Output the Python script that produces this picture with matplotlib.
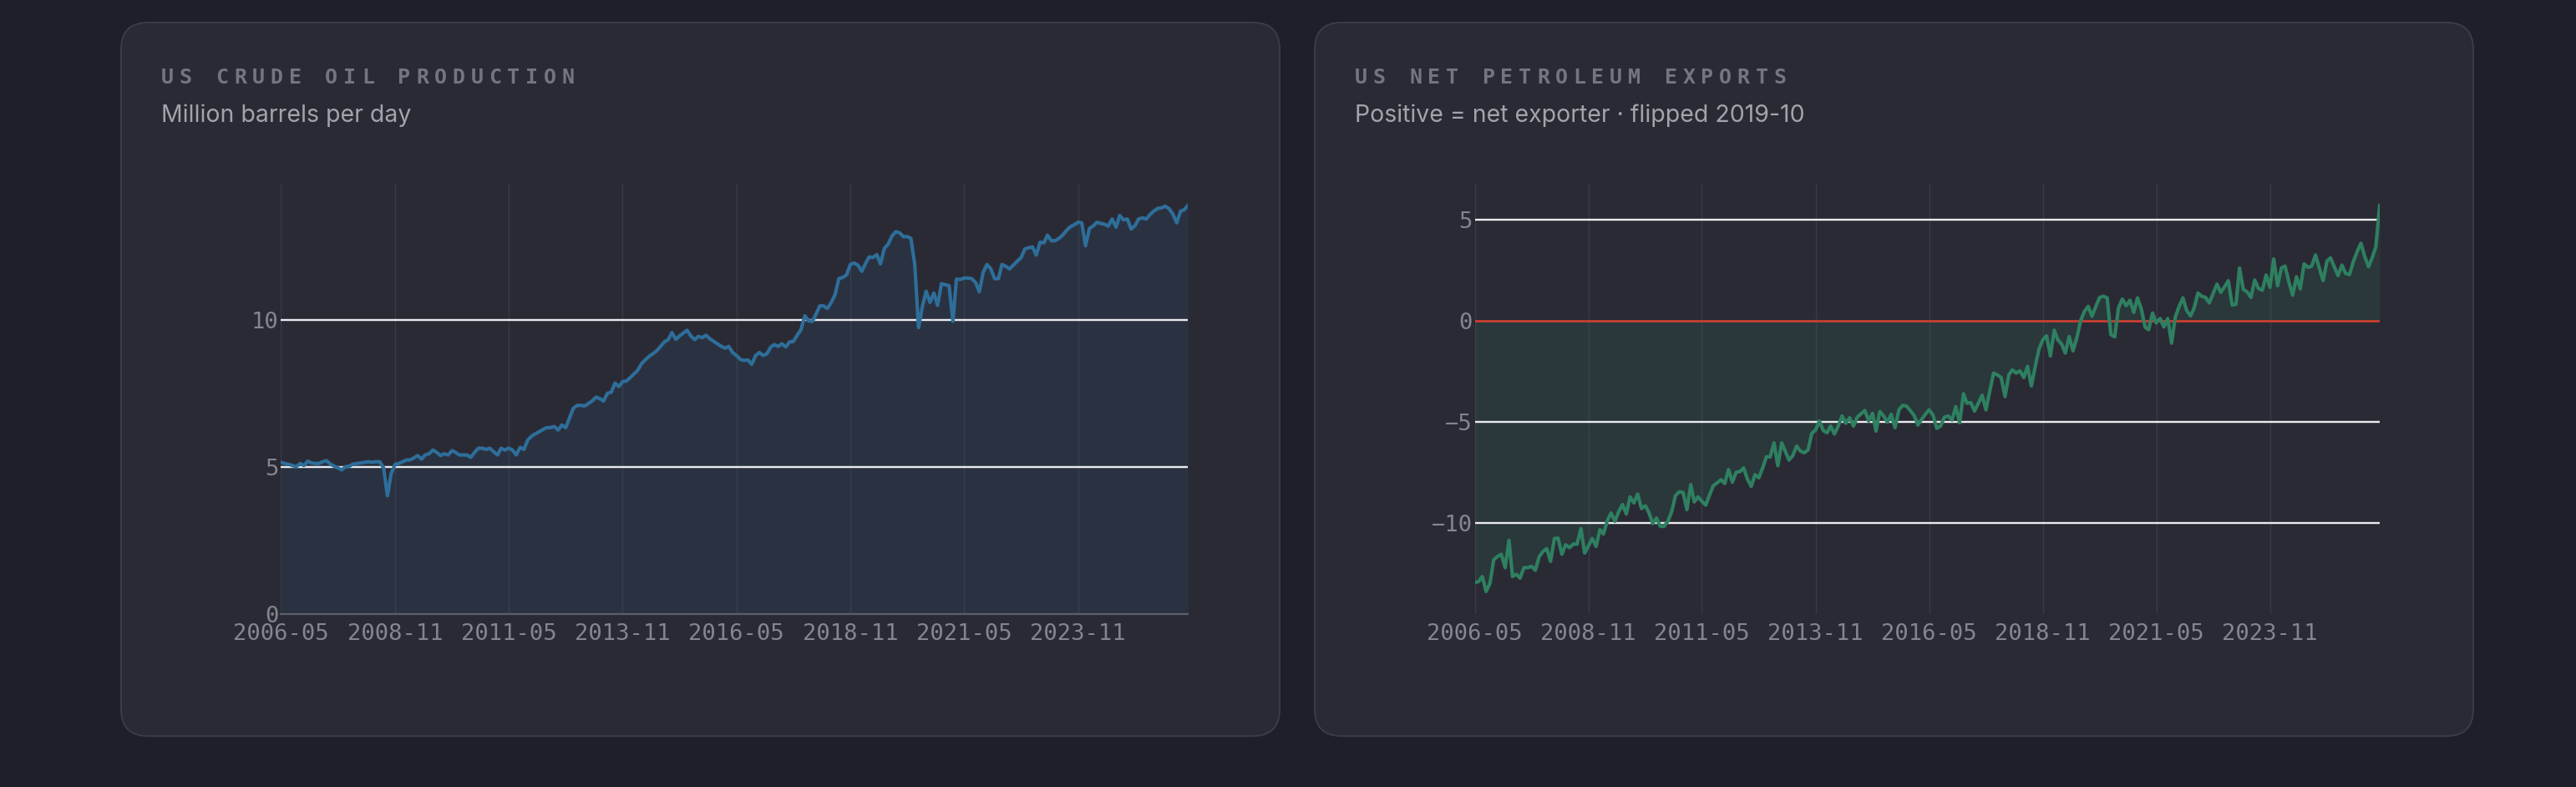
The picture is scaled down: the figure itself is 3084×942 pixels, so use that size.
import pandas as pd
import matplotlib.pyplot as plt
import matplotlib.dates as mdates
from matplotlib.patches import FancyBboxPatch

# monthly values, 2006-05 .. 2026-04
start_month = "2006-05-01"

production = [
    5.16, 5.12, 5.09, 5.05, 5.01, 5.12, 5.05, 5.2, 5.14, 5.12,
    5.12, 5.18, 5.22, 5.10, 5.03, 4.97, 4.9, 5.01, 5.03, 5.1,
    5.12, 5.14, 5.16, 5.18, 5.16, 5.18, 5.18, 4.97, 4.02, 4.78,
    5.09, 5.12, 5.18, 5.24, 5.24, 5.31, 5.39, 5.27, 5.41, 5.45,
    5.58, 5.5, 5.39, 5.45, 5.41, 5.56, 5.5, 5.41, 5.41, 5.41,
    5.33, 5.5, 5.64, 5.64, 5.6, 5.64, 5.52, 5.41, 5.64, 5.58,
    5.64, 5.58, 5.41, 5.67, 5.6, 5.92, 6.05, 6.13, 6.2, 6.28,
    6.34, 6.34, 6.38, 6.26, 6.43, 6.34, 6.68, 7.0, 7.1, 7.1,
    7.08, 7.17, 7.25, 7.38, 7.33, 7.25, 7.51, 7.55, 7.86, 7.74,
    7.91, 7.93, 8.05, 8.18, 8.29, 8.52, 8.65, 8.77, 8.86, 8.96,
    9.11, 9.26, 9.34, 9.58, 9.35, 9.47, 9.56, 9.66, 9.47, 9.34,
    9.45, 9.41, 9.49, 9.37, 9.28, 9.2, 9.11, 9.05, 9.11, 8.9,
    8.8, 8.67, 8.63, 8.65, 8.5, 8.79, 8.9, 8.8, 8.86, 9.09,
    9.17, 9.11, 9.2, 9.09, 9.26, 9.28, 9.49, 9.68, 10.15, 9.98,
    9.96, 10.23, 10.49, 10.49, 10.4, 10.61, 10.87, 11.42, 11.46, 11.54,
    11.9, 11.95, 11.88, 11.67, 11.92, 12.16, 12.14, 12.24, 11.92, 12.45,
    12.6, 12.87, 13.02, 12.98, 12.85, 12.85, 12.79, 11.9, 9.75, 10.47,
    10.99, 10.61, 10.93, 10.51, 11.25, 11.21, 11.18, 9.96, 11.4, 11.39,
    11.44, 11.44, 11.42, 11.29, 10.97, 11.63, 11.9, 11.76, 11.42, 11.42,
    11.9, 11.84, 11.75, 11.88, 12.01, 12.13, 12.43, 12.47, 12.5, 12.22,
    12.66, 12.64, 12.9, 12.71, 12.71, 12.79, 12.9, 13.06, 13.19, 13.25,
    13.34, 13.32, 12.54, 13.13, 13.21, 13.34, 13.3, 13.27, 13.21, 13.45,
    13.17, 13.57, 13.42, 13.45, 13.11, 13.23, 13.45, 13.49, 13.45, 13.6,
    13.72, 13.81, 13.83, 13.89, 13.8, 13.62, 13.32, 13.72, 13.76, 13.91,
]

net_exports = [
    -12.96, -12.91, -12.66, -13.4, -12.99, -11.83, -11.67, -11.56, -12.22, -10.87,
    -12.66, -12.55, -12.74, -12.22, -12.22, -12.16, -12.35, -11.69, -11.42, -11.28,
    -11.91, -10.78, -10.76, -11.56, -11.09, -11.23, -11.06, -11.06, -10.29, -11.5,
    -11.14, -10.78, -11.17, -10.34, -10.56, -9.9, -9.52, -9.93, -9.46, -9.1,
    -9.57, -8.72, -9.02, -8.58, -9.3, -9.16, -9.49, -10.04, -9.77, -10.18,
    -10.18, -9.93, -9.44, -8.66, -8.47, -8.5, -9.35, -8.11, -8.97, -8.72,
    -8.94, -9.13, -8.64, -8.17, -8.03, -7.87, -8.06, -7.37, -8.0, -7.5,
    -7.48, -7.29, -7.84, -8.2, -7.62, -7.78, -7.29, -6.74, -6.74, -6.05,
    -7.18, -6.05, -6.46, -6.9, -6.68, -6.21, -6.46, -6.54, -6.4, -5.58,
    -5.41, -4.97, -5.44, -5.55, -5.22, -5.61, -5.22, -4.72, -5.08, -4.81,
    -5.22, -4.78, -4.61, -4.45, -4.97, -4.59, -5.47, -4.5, -4.72, -5.03,
    -4.64, -5.3, -4.42, -4.2, -4.23, -4.45, -4.7, -5.17, -4.89, -4.64,
    -4.42, -4.67, -5.33, -5.22, -4.78, -4.72, -4.92, -4.26, -5.06, -3.62,
    -4.09, -4.06, -4.48, -4.09, -3.7, -4.42, -3.48, -2.6, -2.69, -2.82,
    -3.76, -2.69, -2.44, -2.6, -2.49, -2.82, -2.27, -3.24, -2.27, -1.42,
    -0.95, -0.76, -1.75, -0.48, -0.95, -1.17, -1.61, -0.79, -1.5, -0.87,
    -0.01, 0.45, 0.7, 0.21, 0.7, 1.14, 1.2, 1.12, -0.7, -0.81,
    0.62, 1.06, 0.73, 1.0, 0.4, 1.12, 0.56, -0.34, -0.45, 0.37,
    -0.12, 0.1, -0.32, 0.1, -1.12, 0.18, 0.7, 1.12, 0.48, 0.23,
    0.62, 1.36, 1.2, 1.14, 0.87, 1.34, 1.8, 1.39, 1.67, 1.97,
    0.76, 0.81, 2.6, 1.53, 1.42, 1.14, 2.0, 1.58, 1.5, 2.25,
    1.64, 3.04, 1.72, 2.6, 2.69, 1.91, 1.25, 2.16, 1.56, 2.8,
    2.63, 2.69, 3.24, 2.6, 1.97, 2.93, 3.1, 2.66, 2.22, 2.74,
    2.33, 2.27, 2.91, 3.4, 3.82, 3.18, 2.66, 3.13, 3.65, 5.69,
]

tick_dates = ["2006-05", "2008-11", "2011-05", "2013-11",
              "2016-05", "2018-11", "2021-05", "2023-11"]
prod_yticks = [0, 5, 10]
exp_yticks = [-10, -5, 0, 5]

titles = ["US CRUDE OIL PRODUCTION", "US NET PETROLEUM EXPORTS"]
subtitles = ["Million barrels per day", "Positive = net exporter \u00b7 flipped 2019-10"]

dates = pd.date_range(start_month, periods=len(production), freq="MS")

W, H = 3084, 942
BG = "#1f1f2b"
CARD = "#2a2a35"
TICK = "#85858f"

fig = plt.figure(figsize=(W / 100, H / 100), dpi=100)
fig.patch.set_facecolor(BG)

# background layer in pixel coords
bg = fig.add_axes([0, 0, 1, 1])
bg.set_xlim(0, W)
bg.set_ylim(H, 0)
bg.axis("off")

card_x = [145, 1574]
for i, cx in enumerate(card_x):
    bg.add_patch(FancyBboxPatch((cx, 27), 1387, 854,
                                boxstyle="round,pad=0,rounding_size=32",
                                facecolor=CARD, edgecolor="#3c3c47", lw=1.4))
    # spaced-out title, one glyph at a time
    x0 = cx + 48
    for j, ch in enumerate(titles[i]):
        if ch != " ":
            bg.text(x0 + j * 21.8, 100, ch, color="#75757f", fontsize=18,
                    fontweight="bold", family="DejaVu Sans Mono", va="baseline")
    bg.text(x0, 146, subtitles[i], color="#a3a3ab", fontsize=20.5,
            family=["Inter", "DejaVu Sans"], va="baseline")


def px_axes(x0, x1, y0, y1):
    return fig.add_axes([x0 / W, 1 - y1 / H, (x1 - x0) / W, (y1 - y0) / H])


def style(ax):
    ax.set_facecolor("none")
    for s in ax.spines.values():
        s.set_visible(False)
    ax.set_xlim(dates[0], dates[-1])
    ax.set_xticks(pd.to_datetime(tick_dates))
    ax.xaxis.set_major_formatter(mdates.DateFormatter("%Y-%m"))
    ax.tick_params(length=0, labelcolor=TICK, labelsize=19.5)
    ax.tick_params(axis="x", pad=8)
    ax.tick_params(axis="y", pad=2)
    for lab in ax.get_xticklabels() + ax.get_yticklabels():
        lab.set_family("DejaVu Sans Mono")
    ax.grid(axis="x", color="#393a45", lw=1)
    ax.set_axisbelow(True)


ax1 = px_axes(336.4, 1422.2, 220, 734.6)
ax1.set_ylim(0, 14.65)
ax1.set_yticks(prod_yticks)
style(ax1)
ax1.spines["bottom"].set_visible(True)
ax1.spines["bottom"].set_color("#5e5e69")
ax1.spines["bottom"].set_linewidth(1.6)
ax1.fill_between(dates, production, 0, color="#2e6e9a", alpha=0.12, lw=0, zorder=1)
for v in [5, 10]:
    ax1.axhline(v, color="#ebebef", lw=1.7, zorder=2)
ax1.plot(dates, production, color="#2e6e9a", lw=3.0, zorder=3,
         solid_joinstyle="round")

ax2 = px_axes(1765.5, 2849, 220, 734.6)
ax2.set_ylim(-14.5, 6.76)
ax2.set_yticks(exp_yticks)
style(ax2)
ax2.fill_between(dates, net_exports, 0, color="#2e8a62", alpha=0.14, lw=0, zorder=1)
for v in [5, -5, -10]:
    ax2.axhline(v, color="#ebebef", lw=1.7, zorder=2)
ax2.axhline(0, color="#c8402f", lw=2.0, zorder=2)
ax2.plot(dates, net_exports, color="#2e8060", lw=3.0, zorder=3,
         solid_joinstyle="round")

fig.savefig("out.png", dpi=100, facecolor=BG)
